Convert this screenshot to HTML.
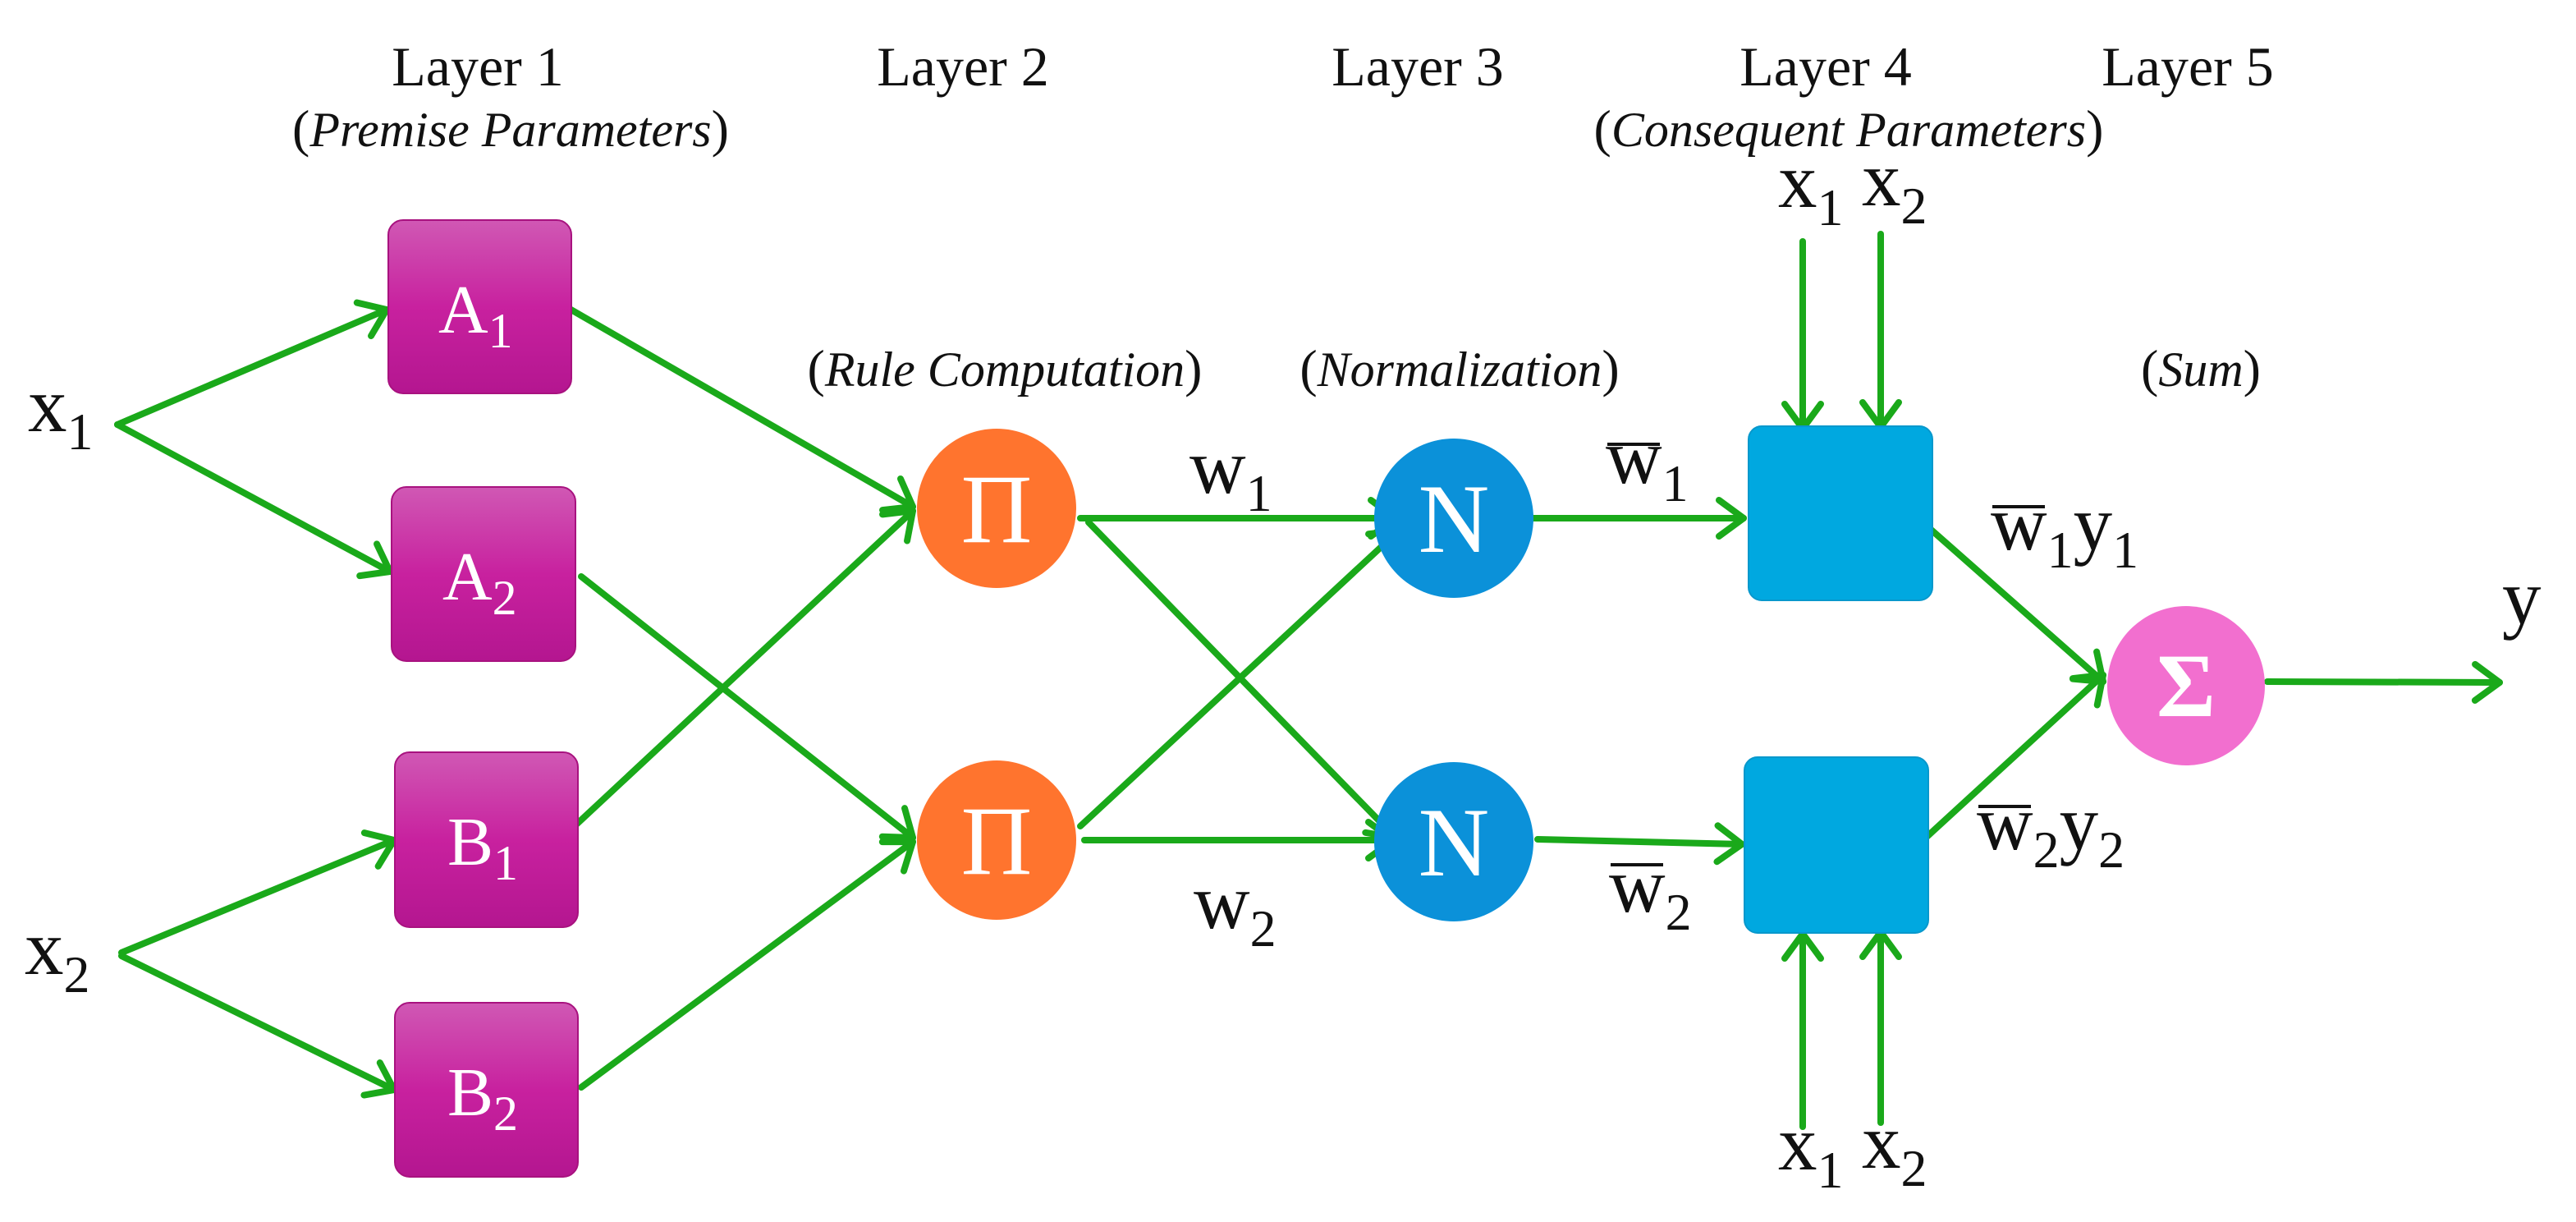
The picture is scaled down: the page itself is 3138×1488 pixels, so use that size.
<!DOCTYPE html>
<html><head><meta charset="utf-8"><style>html,body{margin:0;padding:0;background:#fff}svg{display:block}
svg text,svg tspan{font-family:"Liberation Serif","Times New Roman",Times,"DejaVu Serif",serif}
</style></head>
<body>
<svg width="3138" height="1488" viewBox="0 0 3138 1488" xmlns="http://www.w3.org/2000/svg" font-family="Liberation Serif, Times New Roman, serif">
<defs>
<marker id="ar" markerUnits="userSpaceOnUse" markerWidth="60" markerHeight="60" refX="44" refY="30" orient="auto">
<path d="M14,8 L44,30 L14,52" fill="none" stroke="#1aa91a" stroke-width="8" stroke-linecap="round" stroke-linejoin="round"/>
</marker>
<linearGradient id="mg" x1="0" y1="0" x2="0" y2="1">
<stop offset="0" stop-color="#d058b4"/><stop offset="0.5" stop-color="#c8219f"/><stop offset="1" stop-color="#b41690"/>
</linearGradient>
</defs>

<g font-size="68" fill="#111" text-anchor="middle">
<text x="582" y="104">Layer 1</text>
<text x="1173" y="104">Layer 2</text>
<text x="1727" y="104">Layer 3</text>
<text x="2224" y="104">Layer 4</text>
<text x="2665" y="104">Layer 5</text>
</g>
<g font-size="64" fill="#111" text-anchor="middle">
<text x="622" y="178">(<tspan font-style="italic" font-size="60">Premise Parameters</tspan>)</text>
<text x="2252" y="178">(<tspan font-style="italic" font-size="60">Consequent Parameters</tspan>)</text>
<text x="1224" y="470">(<tspan font-style="italic" font-size="60">Rule Computation</tspan>)</text>
<text x="1778" y="470">(<tspan font-style="italic" font-size="60">Normalization</tspan>)</text>
<text x="2681" y="470">(<tspan font-style="italic" font-size="60">Sum</tspan>)</text>
</g>

<g stroke="#1aa91a" stroke-width="8" fill="none" stroke-linecap="round" marker-end="url(#ar)">
<line x1="143" y1="517" x2="471" y2="377"/>
<line x1="143" y1="517" x2="475" y2="696"/>
<line x1="148" y1="1160" x2="480" y2="1023"/>
<line x1="148" y1="1164" x2="480" y2="1327"/>
<line x1="692" y1="375" x2="1112" y2="617"/>
<line x1="708" y1="702" x2="1112" y2="1020"/>
<line x1="702" y1="1004" x2="1112" y2="622"/>
<line x1="708" y1="1324" x2="1112" y2="1025"/>
<line x1="1316" y1="631" x2="1700" y2="631"/>
<line x1="1326" y1="636" x2="1700" y2="1020"/>
<line x1="1316" y1="1006" x2="1704" y2="646"/>
<line x1="1321" y1="1023" x2="1697" y2="1023"/>
<line x1="1868" y1="631" x2="2124" y2="631"/>
<line x1="1873" y1="1022" x2="2122" y2="1028"/>
<line x1="2196" y1="294" x2="2196" y2="522"/>
<line x1="2291" y1="285" x2="2291" y2="520"/>
<line x1="2196" y1="1372" x2="2196" y2="1137"/>
<line x1="2291" y1="1367" x2="2291" y2="1135"/>
<line x1="2349" y1="642" x2="2562" y2="830"/>
<line x1="2346" y1="1020" x2="2562" y2="822"/>
<line x1="2762" y1="830" x2="3045" y2="831"/>
</g>

<g>
<rect x="473" y="268" width="223" height="211" rx="18" fill="url(#mg)" stroke="#a8127f" stroke-width="2"/>
<rect x="477" y="593" width="224" height="212" rx="18" fill="url(#mg)" stroke="#a8127f" stroke-width="2"/>
<rect x="481" y="916" width="223" height="213" rx="18" fill="url(#mg)" stroke="#a8127f" stroke-width="2"/>
<rect x="481" y="1221" width="223" height="212" rx="18" fill="url(#mg)" stroke="#a8127f" stroke-width="2"/>
</g>
<g fill="#fff" font-size="84">
<text x="534" y="405">A<tspan font-size="60" dy="18">1</tspan></text>
<text x="539" y="730">A<tspan font-size="60" dy="18">2</tspan></text>
<text x="545" y="1053">B<tspan font-size="60" dy="18">1</tspan></text>
<text x="545" y="1358">B<tspan font-size="60" dy="18">2</tspan></text>
</g>

<ellipse cx="1214" cy="619" rx="97" ry="97" fill="#ff742e"/>
<ellipse cx="1214" cy="1023" rx="97" ry="97" fill="#ff742e"/>
<ellipse cx="1771" cy="631" rx="97" ry="97" fill="#0b91d9"/>
<ellipse cx="1771" cy="1025" rx="97" ry="97" fill="#0b91d9"/>
<ellipse cx="2663" cy="835" rx="96" ry="97" fill="#f26fcf"/>
<g fill="#fff" font-size="120" text-anchor="middle">
<text x="1214" y="660">Π</text>
<text x="1214" y="1064">Π</text>
<text x="1771" y="672">N</text>
<text x="1771" y="1066">N</text>
<text x="2663" y="872" font-size="110" font-weight="bold">Σ</text>
</g>

<rect x="2130" y="519" width="224" height="212" rx="16" fill="#00a8e0" stroke="#0898cc" stroke-width="2"/>
<rect x="2125" y="922" width="224" height="214" rx="16" fill="#00a8e0" stroke="#0898cc" stroke-width="2"/>

<g fill="#111" font-size="95">
<text x="34" y="525">x<tspan font-size="64" dy="22">1</tspan></text>
<text x="30" y="1186">x<tspan font-size="64" dy="22">2</tspan></text>
<text x="1449" y="600">w<tspan font-size="64" dy="22">1</tspan></text>
<text x="1454" y="1130">w<tspan font-size="64" dy="22">2</tspan></text>
<text x="2166" y="252">x<tspan font-size="64" dy="22">1</tspan></text>
<text x="2268" y="250">x<tspan font-size="64" dy="22">2</tspan></text>
<text x="2166" y="1424">x<tspan font-size="64" dy="22">1</tspan></text>
<text x="2268" y="1422">x<tspan font-size="64" dy="22">2</tspan></text>
<text x="1956" y="588">w<tspan font-size="64" dy="22">1</tspan></text>
<text x="1960" y="1110">w<tspan font-size="64" dy="22">2</tspan></text>
<text x="2425" y="669">w<tspan font-size="64" dy="22">1</tspan><tspan dy="-22">y</tspan><tspan font-size="64" dy="22">1</tspan></text>
<text x="2408" y="1034">w<tspan font-size="64" dy="22">2</tspan><tspan dy="-22">y</tspan><tspan font-size="64" dy="22">2</tspan></text>
<text x="3048" y="759">y</text>
</g>
<g stroke="#111" stroke-width="4">
<line x1="1958" y1="541" x2="2022" y2="541"/>
<line x1="1962" y1="1053" x2="2026" y2="1053"/>
<line x1="2427" y1="617" x2="2491" y2="617"/>
<line x1="2410" y1="982" x2="2474" y2="982"/>
</g>
</svg>
</body></html>
